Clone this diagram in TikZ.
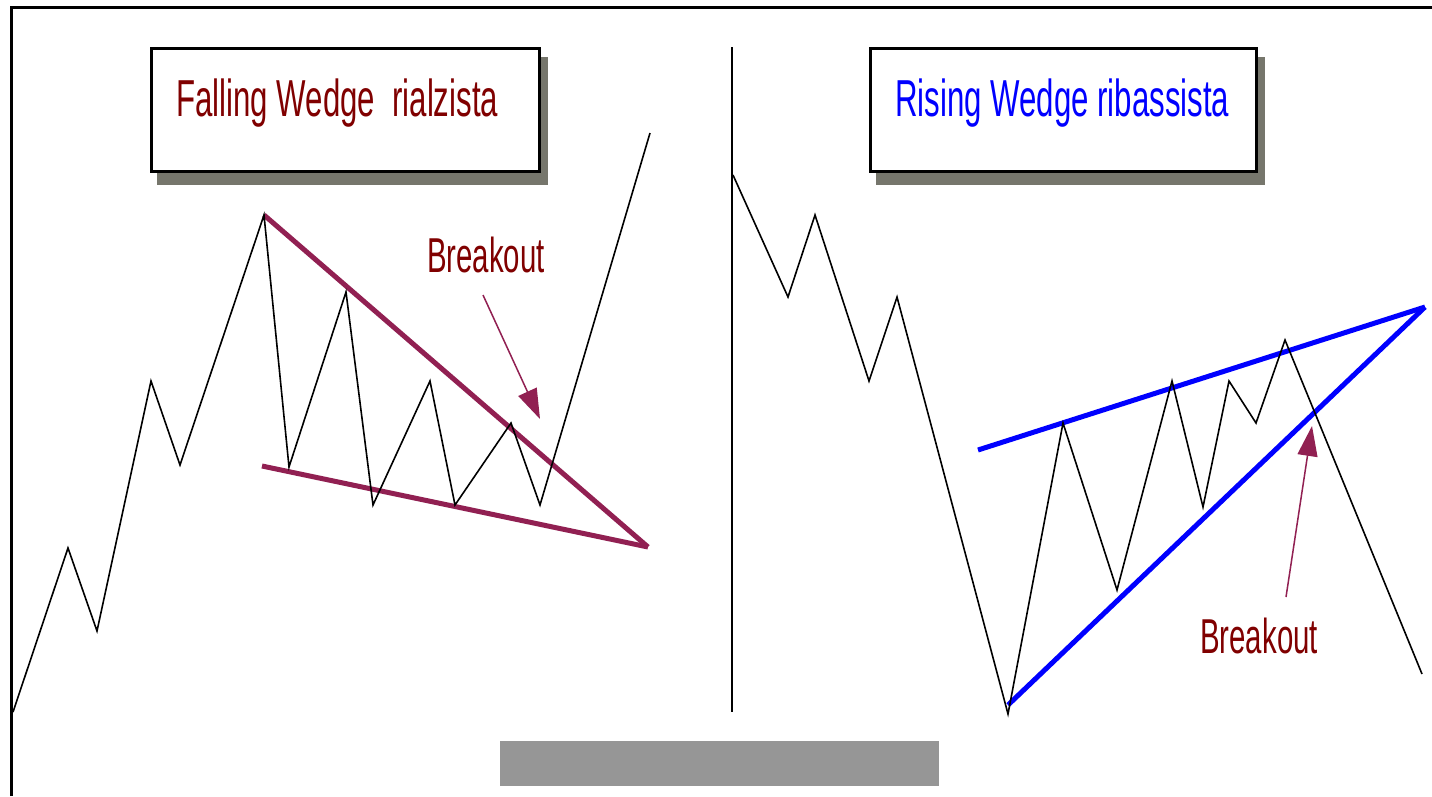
\documentclass[tikz,border=0pt]{standalone}
\usepackage{fontspec}
\setmainfont{Liberation Sans}
\newfontfamily\narrowfont[FakeStretch=0.6]{Liberation Sans}
\usetikzlibrary{arrows.meta}
\definecolor{wedgered}{RGB}{145,32,82}
\definecolor{darkred}{RGB}{128,0,0}
\definecolor{shadowgray}{RGB}{118,118,108}
\definecolor{bargray}{RGB}{150,150,150}
\begin{document}
\begin{tikzpicture}[x=1pt,y=-1pt,
 price/.style={line width=1.6pt, line join=miter},
 wedgeline/.style={line width=5pt, color=wedgered},
 blueline/.style={line width=5pt, color=blue},
 titlebox/.style={draw=black, line width=3pt, fill=white},
 shadowbox/.style={fill=shadowgray},
 titletext/.style={font=\narrowfont\fontsize{52}{60}\selectfont, anchor=base west, inner sep=0pt},
 breaktext/.style={font=\narrowfont\fontsize{49}{56}\selectfont, text=darkred, anchor=base west, inner sep=0pt},
 breakarrow/.style={draw=wedgered, line width=1.5pt, -{Triangle[length=30pt,width=20pt,fill=wedgered]}}
]
\useasboundingbox (0,0) rectangle (1432,796);
\fill[white] (0,0) rectangle (1432,796);
% frame
\draw[line width=3pt] (11,796) -- (11,7) -- (1432,7);
% divider
\draw[line width=2pt] (732,47) -- (732,712);
% gray bar
\fill[bargray] (500,741) rectangle (939,786);
% title boxes
\fill[shadowbox] (157,57) rectangle (548,185);
\draw[titlebox] (151.5,48.5) rectangle (539.5,171.5);
\fill[shadowbox] (876,57) rectangle (1265,185);
\draw[titlebox] (870.5,48.5) rectangle (1256.5,171.5);
\node[titletext, text=darkred] (t1) at (176,116) {Falling Wedge~ rialzista};
\node[titletext, text=blue] (t2) at (895,116) {Rising Wedge ribassista};
% left wedge
\draw[wedgeline] (264,215) -- (648,547);
\draw[wedgeline] (262,466) -- (648,547);
\draw[price] (13,712) -- (68,548) -- (97,631) -- (151,381) -- (180,465) -- (264,215) -- (289,467) -- (346,292) -- (373,505) -- (430,381) -- (455,505) -- (511,423) -- (540,505) -- (650,133);
% right wedge
\draw[blueline] (978,450) -- (1425,307);
\draw[blueline] (1008,705) -- (1425,307);
\draw[price] (733,175) -- (788,297) -- (815,215) -- (869,381) -- (897,297) -- (1008,714) -- (1063,423) -- (1117,590) -- (1172,381) -- (1203,507) -- (1229,381) -- (1256,423) -- (1285,340) -- (1422,674);
% breakouts
\node[breaktext] (b1) at (427,272) {Breakout};
\coordinate (a1s) at (483,295);
\coordinate (a1e) at (540,419);
\draw[breakarrow] (a1s) -- (a1e);
\node[breaktext] (b2) at (1200,653) {Breakout};
\coordinate (a2s) at (1286,597);
\coordinate (a2e) at (1312,426);
\draw[breakarrow] (a2s) -- (a2e);
\end{tikzpicture}
\end{document}
